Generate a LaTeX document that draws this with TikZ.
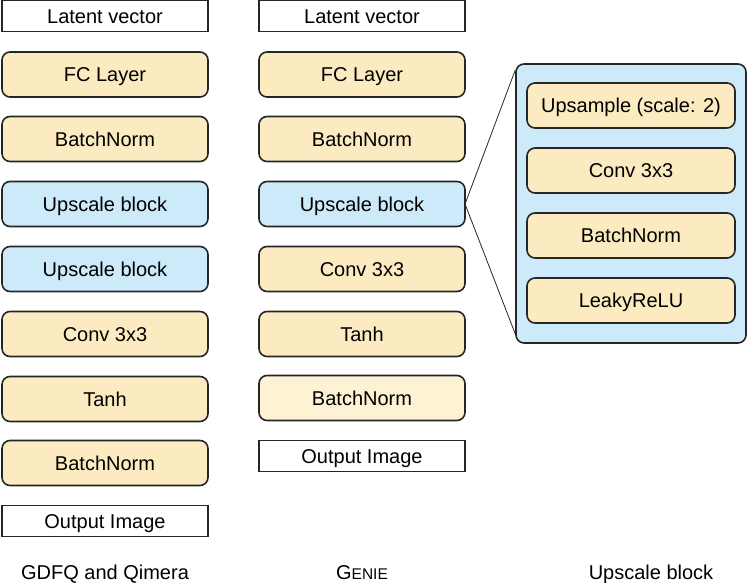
\documentclass[tikz,border=0pt]{standalone}
\usepackage{fontspec}
\setmainfont{Liberation Sans}
\definecolor{ylw}{HTML}{FCEBC0}
\definecolor{ylwlight}{HTML}{FEF2D4}
\definecolor{blu}{HTML}{CDEAFB}
\begin{document}
\begin{tikzpicture}[x=1pt,y=-1pt,
  lyr/.style={draw=black!85, line width=1.6pt, rounded corners=8pt, fill=ylw,
    minimum width=206pt, minimum height=45pt, inner sep=0pt,
    text height=14.3pt, text depth=0pt,
    font=\fontsize{20}{22}\selectfont},
  upsb/.style={lyr, fill=blu},
  iobox/.style={draw=black!85, line width=1.6pt, fill=white,
    minimum width=206pt, minimum height=31pt, inner sep=0pt,
    text height=14.3pt, text depth=0pt,
    font=\fontsize{20}{22}\selectfont},
  caption/.style={font=\fontsize{20}{22}\selectfont, text height=14.3pt, text depth=0pt},
  zoomline/.style={draw=black!85, line width=0.8pt}]
\useasboundingbox (0,0) rectangle (747,583);

% Left column
\node[iobox] (a0) at (105,16) {Latent vector};
\node[lyr]   (a1) at (105,74.5) {FC Layer};
\node[lyr]   (a2) at (105,139) {BatchNorm};
\node[upsb]  (a3) at (105,204) {Upscale block};
\node[upsb]  (a4) at (105,269) {Upscale block};
\node[lyr]   (a5) at (105,334) {Conv 3x3};
\node[lyr]   (a6) at (105,399) {Tanh};
\node[lyr]   (a7) at (105,463) {BatchNorm};
\node[iobox] (a8) at (105,521) {Output Image};

% Middle column
\node[iobox] (b0) at (362,16) {Latent vector};
\node[lyr]   (b1) at (362,74.5) {FC Layer};
\node[lyr]   (b2) at (362,139) {BatchNorm};
\node[upsb]  (b3) at (362,204) {Upscale block};
\node[lyr]   (b4) at (362,269) {Conv 3x3};
\node[lyr]   (b5) at (362,334) {Tanh};
\node[lyr, fill=ylwlight] (b6) at (362,398) {BatchNorm};
\node[iobox] (b7) at (362,456) {Output Image};

% Upscale block detail
\node[upsb, minimum width=230pt, minimum height=279pt] (outer) at (631,203.5) {};
\node[lyr, minimum width=208pt] (c1) at (631,105.5) {Upsample (scale: 2)};
\node[lyr, minimum width=208pt] (c2) at (631,170.5) {Conv 3x3};
\node[lyr, minimum width=208pt] (c3) at (631,235.5) {BatchNorm};
\node[lyr, minimum width=208pt] (c4) at (631,300.5) {LeakyReLU};

\draw[zoomline] ([yshift=2pt]b3.east) -- ([yshift=-7pt]outer.north west);
\draw[zoomline] ([yshift=-2pt]b3.east) -- ([yshift=10pt]outer.south west);

% Captions
\node[caption] (t1) at (105,572) {GDFQ and Qimera};
\node[caption] (t2) at (362,572) {G{\fontsize{15.5}{18}\selectfont ENIE}};
\node[caption] (t3) at (651,572) {Upscale block};
\end{tikzpicture}
\end{document}
